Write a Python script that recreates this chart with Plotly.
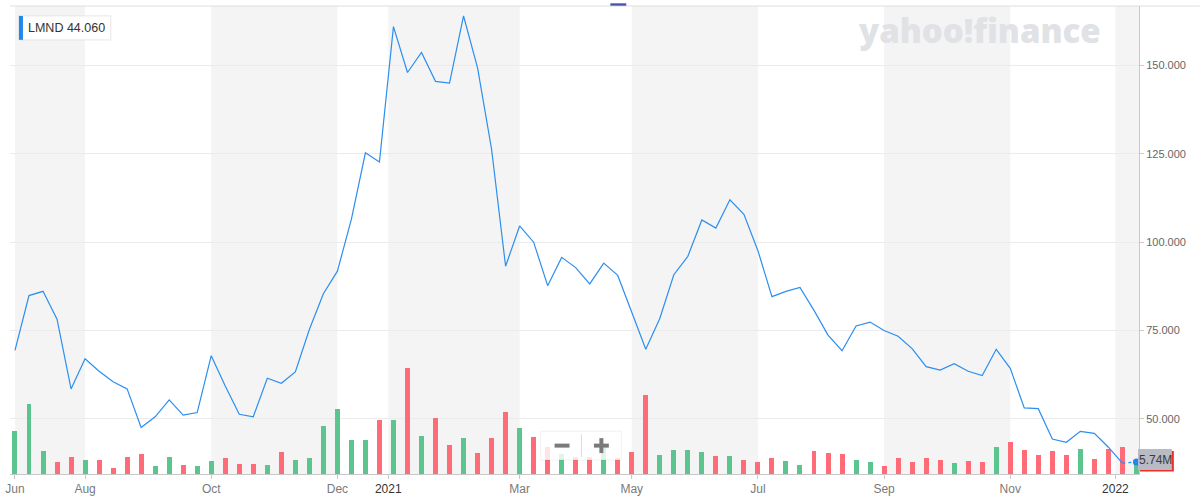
import plotly.graph_objects as go

# ---------------- data ----------------
# weekly closes of LMND (approx), index 0 = week of Jun 29 2020
price = [69.4, 84.9, 86.1, 78.2, 58.5, 67.0, 63.5, 60.5, 58.5, 47.6,
         50.6, 55.4, 51.1, 51.8, 67.9, 59.3, 51.3, 50.6, 61.5, 60.1,
         63.3, 75.3, 85.4, 91.8, 106.5, 125.3, 122.7, 161.0, 148.0, 153.7,
         145.5, 145.0, 164.0, 149.3, 126.3, 93.2, 104.6, 100.0, 87.7, 95.7,
         92.8, 88.2, 94.1, 90.6, 80.2, 69.7, 78.4, 90.8, 96.0, 106.3,
         104.0, 112.0, 107.9, 97.6, 84.6, 86.1, 87.2, 80.7, 73.7, 69.3,
         76.3, 77.4, 75.0, 73.4, 69.9, 64.8, 63.8, 65.6, 63.5, 62.3,
         69.7, 64.3, 53.1, 52.9, 44.3, 43.4, 46.5, 45.9, 42.0, 37.5,
         37.8]

# weekly volume in millions (approx)
volume = [17.9, 28.9, 9.3, 4.8, 6.8, 5.6, 5.6, 2.3, 6.8, 8.4,
          3.5, 6.8, 3.9, 3.5, 5.2, 6.4, 4.3, 4.3, 3.9, 8.9,
          5.6, 6.4, 19.9, 26.9, 13.8, 14.2, 22.4, 22.3, 43.6, 15.7,
          23.1, 12.0, 14.9, 8.7, 14.9, 25.5, 19.0, 15.3, 11.2, 8.3,
          7.1, 7.1, 11.1, 6.4, 9.1, 32.6, 8.0, 9.7, 9.7, 9.1,
          7.6, 7.6, 5.6, 4.8, 6.4, 5.5, 3.9, 9.6, 8.8, 8.4,
          5.9, 5.1, 3.5, 6.4, 5.1, 6.4, 5.9, 4.7, 5.2, 4.8,
          11.3, 13.0, 9.7, 8.0, 9.3, 8.0, 10.1, 6.0, 10.1, 11.3,
          5.74]

tick_pos = [0, 5, 14, 23, 26.63, 36, 44, 53, 62, 71, 78.5]
tick_labels = ["Jun", "Aug", "Oct", "Dec", "2021", "Mar", "May", "Jul", "Sep", "Nov", "2022"]
year_labels = {"2021", "2022"}

price_ticks = [50, 75, 100, 125, 150]
price_tick_labels = ["50.000", "75.000", "100.000", "125.000", "150.000"]

symbol = "LMND"
last_quote = "44.060"
last_volume_label = "5.74M"

# ---------------- figure ----------------
n = len(price)
idx = list(range(n))
GREEN = "#5cc48f"
RED = "#ff6b76"
bar_colors = [GREEN] + [GREEN if price[i] >= price[i - 1] else RED for i in range(1, n)]

W, H = 1200, 501
L, R, T, B = 5, 61, 6, 25
PW, PH = W - L - R, H - T - B


def px(x):
    return (x - L) / PW


def py(y):
    return (H - B - y) / PH


fig = go.Figure()

fig.add_trace(go.Bar(x=idx, y=volume, marker=dict(color=bar_colors, line_width=0),
                     width=0.355, yaxis="y", hoverinfo="skip", showlegend=False))

fig.add_trace(go.Scatter(x=idx[:-1], y=price[:-1], mode="lines",
                         line=dict(color="#2c8ef0", width=1.2), yaxis="y2",
                         showlegend=False))
fig.add_trace(go.Scatter(x=idx[-2:], y=price[-2:], mode="lines",
                         line=dict(color="#2c8ef0", width=1.2, dash="dot"), yaxis="y2",
                         showlegend=False))
fig.add_trace(go.Scatter(x=[idx[-1]], y=[price[-1]], mode="markers",
                         marker=dict(color="#1e88f0", size=7), yaxis="y2",
                         showlegend=False))

shapes = []
# alternating month bands
band_edges = tick_pos + [n - 1 + 0.185]
for k in range(0, len(band_edges) - 1, 2):
    shapes.append(dict(type="rect", xref="x", yref="paper", x0=band_edges[k], x1=band_edges[k + 1],
                       y0=0, y1=1, fillcolor="#f4f4f4", line_width=0, layer="below"))
# top border
shapes.append(dict(type="line", xref="paper", yref="paper", x0=0, x1=px(1200), y0=1, y1=1,
                   line=dict(color="#dedede", width=1)))
# small indicator at top
shapes.append(dict(type="rect", xref="paper", yref="paper", x0=px(608), x1=px(624),
                   y0=py(5.7), y1=py(3.3), fillcolor="#4653b8", line_width=0))
# legend box
shapes.append(dict(type="rect", xref="paper", yref="paper", x0=px(13), x1=px(107),
                   y0=py(41), y1=py(15), fillcolor="rgba(0,0,0,0.04)", line_width=0))
shapes.append(dict(type="rect", xref="paper", yref="paper", x0=px(14), x1=px(106),
                   y0=py(40), y1=py(16), fillcolor="white", line=dict(color="#ececec", width=1)))
shapes.append(dict(type="rect", xref="paper", yref="paper", x0=px(14), x1=px(18),
                   y0=py(40), y1=py(16), fillcolor="#1e88f0", line_width=0))
# zoom control
shapes.append(dict(type="rect", xref="paper", yref="paper", x0=px(538), x1=px(619),
                   y0=py(462), y1=py(433), fillcolor="rgba(255,255,255,0.82)",
                   line=dict(color="rgba(0,0,0,0.06)", width=1)))
shapes.append(dict(type="line", xref="paper", yref="paper", x0=px(579), x1=px(579),
                   y0=py(459), y1=py(436), line=dict(color="#dddddd", width=1)))
shapes.append(dict(type="rect", xref="paper", yref="paper", x0=px(552), x1=px(567),
                   y0=py(449.5), y1=py(445.5), fillcolor="#7a7a7a", line_width=0))
shapes.append(dict(type="rect", xref="paper", yref="paper", x0=px(591.5), x1=px(606.5),
                   y0=py(449.5), y1=py(445.5), fillcolor="#7a7a7a", line_width=0))
shapes.append(dict(type="rect", xref="paper", yref="paper", x0=px(597), x1=px(601),
                   y0=py(455), y1=py(440), fillcolor="#7a7a7a", line_width=0))
# volume label
shapes.append(dict(type="rect", xref="paper", yref="paper", x0=px(1140), x1=px(1174),
                   y0=py(473.5), y1=py(453), fillcolor="#f02c2c", line_width=0))
shapes.append(dict(type="rect", xref="paper", yref="paper", x0=px(1138), x1=px(1172),
                   y0=py(472), y1=py(451), fillcolor="#b8bbc3", line_width=0))

annotations = [
    dict(xref="paper", yref="paper", x=px(62), y=py(28), xanchor="center", yanchor="middle",
         text=f"{symbol} {last_quote}", showarrow=False,
         font=dict(family="Liberation Sans, Arial, sans-serif", size=12.5, color="#333333")),
    dict(xref="paper", yref="paper", x=px(979), y=py(31), xanchor="center", yanchor="middle",
         text="yahoo!finance", showarrow=False,
         font=dict(family="Open Sans, Roboto, sans-serif", size=33, color="#e0e2e6", weight=800)),
    dict(xref="paper", yref="paper", x=px(1156), y=py(461.5), xanchor="center", yanchor="middle",
         text=last_volume_label, showarrow=False,
         font=dict(family="Liberation Sans, Arial, sans-serif", size=12, color="#3a3a3a")),
]

ticktext = [f'<span style="color:#333333">{t}</span>' if t in year_labels else t for t in tick_labels]

fig.update_layout(
    width=W, height=H,
    margin=dict(l=L, r=R, t=T, b=B),
    paper_bgcolor="white", plot_bgcolor="white",
    bargap=0,
    xaxis=dict(range=[-0.355, n - 1 + 0.185], tickmode="array", tickvals=tick_pos,
               ticktext=ticktext, showgrid=False, zeroline=False, showline=True,
               linecolor="#c8c8c8", linewidth=1, ticks="outside", ticklen=4,
               tickcolor="#c8c8c8",
               tickfont=dict(family="Liberation Sans, Arial, sans-serif", size=12, color="#7a7a7a")),
    yaxis=dict(range=[0, 192.7], visible=False, fixedrange=True),
    yaxis2=dict(range=[34.42, 166.82], overlaying="y", side="right", tickmode="array",
                tickvals=price_ticks, ticktext=price_tick_labels, showgrid=True,
                gridcolor="#ebebeb", gridwidth=1, zeroline=False, showline=True,
                linecolor="#c8c8c8", linewidth=1, ticks="outside", ticklen=4,
                tickcolor="#c8c8c8",
                tickfont=dict(family="Liberation Sans, Arial, sans-serif", size=11, color="#666666")),
    shapes=shapes,
    annotations=annotations,
    showlegend=False,
)

fig.write_html("out.html", config={"displayModeBar": False},
               post_script="document.body.style.margin='0';document.body.style.overflow='hidden';")
